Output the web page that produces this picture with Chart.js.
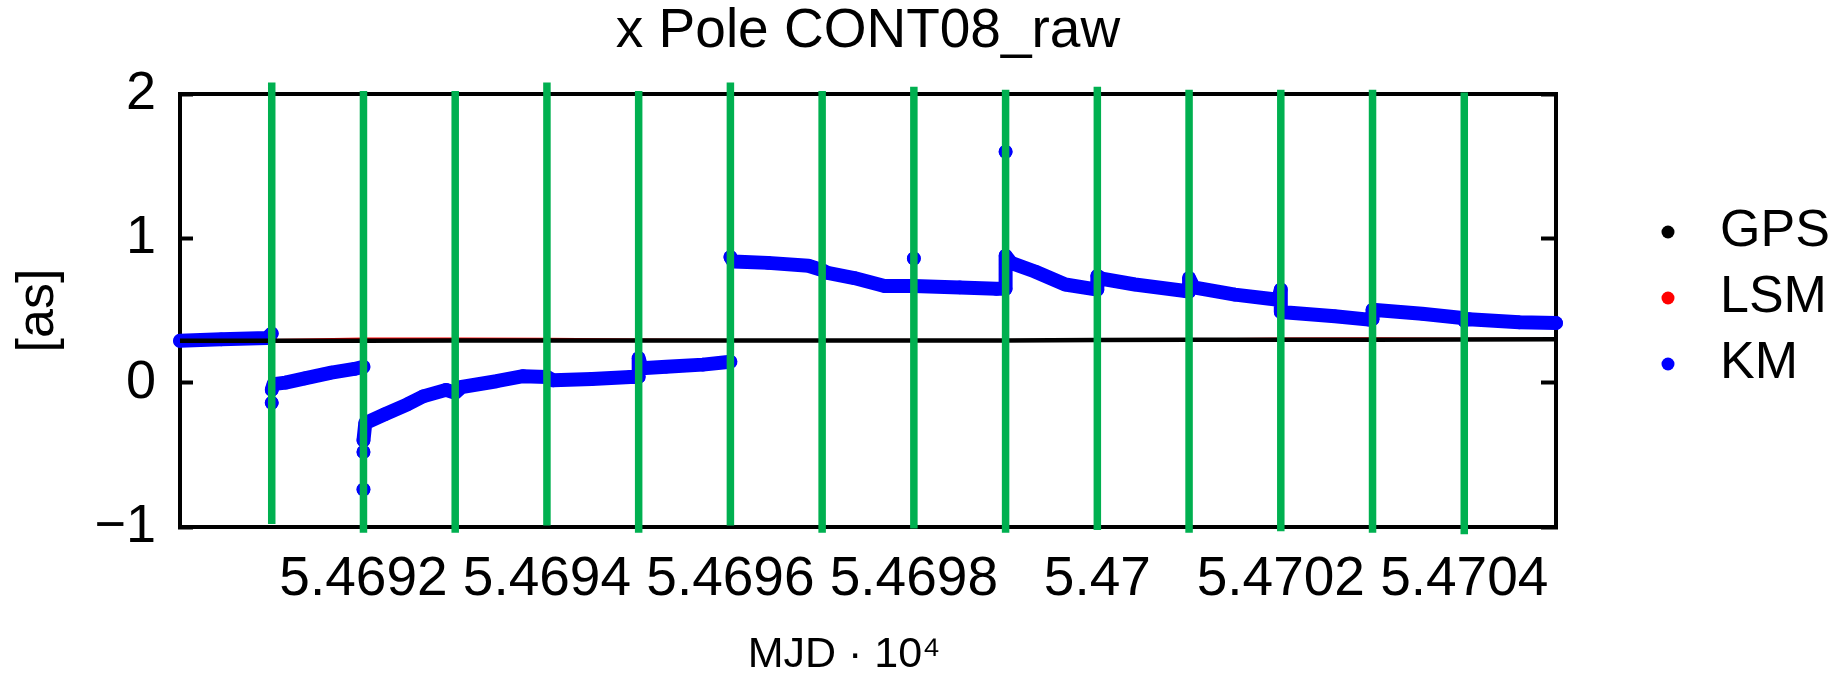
<!DOCTYPE html>
<html>
<head>
<meta charset="utf-8">
<script src="https://cdn.jsdelivr.net/npm/chart.js@4.4.1/dist/chart.umd.min.js"></script>
<style>
html,body{margin:0;padding:0;background:#ffffff;}
#wrap{width:1848px;height:674px;position:relative;}
</style>
</head>
<body>
<div id="wrap"><canvas id="c"></canvas></div>
<script>
// ---------- text ----------
const titleText = 'x Pole CONT08_raw';
const xAxisTitle = 'MJD · 10⁴';
const yAxisTitle = '[as]';
const seriesNames = ['GPS', 'LSM', 'KM'];
const seriesColors = ['#000000', '#ff0000', '#0000ff'];
const markerColor = '#00b050';

// ---------- ticks ----------
const xTickValues = [54692, 54694, 54696, 54698, 54700, 54702, 54704];
const xTickLabels = ['5.4692', '5.4694', '5.4696', '5.4698', '5.47', '5.4702', '5.4704'];
const yTickValues = [-1, 0, 1, 2];
const yTickLabels = ['\u22121', '0', '1', '2'];
const xMin = 54690, xMax = 54705;
const yMin = -1, yMax = 2;

// ---------- GPS (MJD, value in as) ----------
const gpsMJD    = [54690, 54691, 54692, 54693, 54694, 54695, 54696, 54697, 54698, 54699, 54700, 54701, 54702, 54703, 54704, 54705];
const gpsValues = [0.291, 0.291, 0.291, 0.292, 0.292, 0.292, 0.292, 0.292, 0.292, 0.293, 0.295, 0.297, 0.298, 0.298, 0.299, 0.300];

// ---------- LSM ----------
const lsmMJD    = [54690, 54691, 54692, 54693, 54694, 54695, 54696, 54697, 54698, 54699, 54700, 54701, 54702, 54703, 54704, 54705];
const lsmValues = [0.291, 0.292, 0.302, 0.303, 0.301, 0.296, 0.292, 0.292, 0.292, 0.293, 0.294, 0.296, 0.303, 0.304, 0.300, 0.302];

// ---------- KM (null = break between arcs) ----------
const kmMJD = [
  54690.00, 54690.45, 54690.95, 54691.00, null,
  54691.00, null,
  54691.00, 54691.02, 54691.15, 54691.36, 54691.65, 54691.90, 54692.00, null,
  54692.00, null,
  54692.00, null,
  54692.00, 54692.02, 54692.23, 54692.48, 54692.65, 54692.90, 54693.00, 54693.07, 54693.45, 54693.74,
  54694.00, 54694.07, 54694.49, 54694.91, 54695.00, 54695.00, 54695.03, 54695.30, 54695.70, 54696.00, null,
  54696.00, 54696.03, 54696.41, 54696.85, 54697.00, 54697.06, 54697.35, 54697.68, 54698.00, 54698.50,
  54698.90, 54699.00, 54699.00, 54699.06, 54699.32, 54699.65, 54700.00, 54700.00, 54700.05, 54700.41,
  54700.96, 54701.00, 54701.00, 54701.05, 54701.50, 54701.97, 54702.00, 54702.00, 54702.59, 54702.96,
  54703.00, 54703.00, 54703.54, 54703.98, 54704.00, 54704.05, 54704.60, 54705.00, null,
  54698.00, null,
  54699.00
];
const kmValues = [
  0.29, 0.30, 0.31, 0.34, null,
  -0.14, null,
  -0.05, -0.01, 0.00, 0.03, 0.07, 0.095, 0.11, null,
  -0.74, null,
  -0.48, null,
  -0.40, -0.28, -0.22, -0.15, -0.095, -0.05, -0.07, -0.03, 0.01, 0.045,
  0.04, 0.016, 0.026, 0.04, 0.04, 0.17, 0.10, 0.11, 0.125, 0.145, null,
  0.87, 0.84, 0.83, 0.81, 0.78, 0.76, 0.725, 0.67, 0.67, 0.66,
  0.65, 0.65, 0.88, 0.83, 0.77, 0.68, 0.645, 0.74, 0.72, 0.68,
  0.635, 0.63, 0.725, 0.66, 0.61, 0.575, 0.645, 0.49, 0.46, 0.437,
  0.44, 0.505, 0.478, 0.448, 0.43, 0.44, 0.418, 0.413, null,
  0.86, null,
  1.60
];

// ---------- green day markers ----------
const markerMJD    = [54691, 54692, 54693, 54694, 54695, 54696, 54697, 54698, 54699, 54700, 54701, 54702, 54703, 54704];
const markerBottom = [-0.98, -1.04, -1.04, -0.99, -1.04, -0.99, -1.04, -1.01, -1.04, -1.02, -1.04, -1.03, -1.04, -1.05];
const markerTop    = [2.08, 2.02, 2.02, 2.08, 2.02, 2.08, 2.02, 2.05, 2.03, 2.05, 2.03, 2.03, 2.03, 2.01];

// ---------- layout constants ----------
const FONT = "'Liberation Sans', Arial, Helvetica, sans-serif";
const LEGEND_W = 220;
const PLOT_LEFT = 180, PLOT_RIGHT = 1556, PLOT_TOP = 94, PLOT_BOTTOM = 527;
const CANVAS_W = 1848, CANVAS_H = 674;
const TITLE_H = 59;

// ---------- build data ----------
const pairs = (xs, ys) => xs.map((x, i) => ({x: x === null ? xs[i - 1] : x, y: ys[i]}));
const markerData = [];
markerMJD.forEach((x, i) => {
  markerData.push({x: x, y: markerBottom[i]});
  markerData.push({x: x, y: markerTop[i]});
  markerData.push({x: x, y: null});
});

const legendWidthPlugin = {
  id: 'legendWidth',
  beforeLayout(chart) {
    const lg = chart.legend;
    if (lg && !lg._patched) {
      const fit = lg.fit;
      lg.fit = function () { fit.call(this); this.width = LEGEND_W; };
      lg._patched = true;
    }
  }
};

Chart.defaults.font.family = FONT;
Chart.defaults.color = '#000000';

new Chart(document.getElementById('c'), {
  type: 'scatter',
  data: {
    datasets: [
      {
        label: '',
        data: markerData,
        showLine: true,
        spanGaps: false,
        borderColor: markerColor,
        backgroundColor: markerColor,
        borderWidth: 7.5,
        borderCapStyle: 'butt',
        pointRadius: 0,
        clip: false,
        order: 0
      },
      {
        label: seriesNames[0],
        data: pairs(gpsMJD, gpsValues),
        showLine: true,
        borderColor: seriesColors[0],
        backgroundColor: seriesColors[0],
        borderWidth: 4.5,
        pointRadius: 0,
        pointStyle: 'circle',
        order: 1
      },
      {
        label: seriesNames[1],
        data: pairs(lsmMJD, lsmValues),
        showLine: true,
        borderColor: seriesColors[1],
        backgroundColor: seriesColors[1],
        borderWidth: 3,
        pointRadius: 0,
        pointStyle: 'circle',
        order: 2
      },
      {
        label: seriesNames[2],
        data: pairs(kmMJD, kmValues),
        showLine: true,
        spanGaps: false,
        borderColor: seriesColors[2],
        backgroundColor: seriesColors[2],
        borderWidth: 14,
        borderCapStyle: 'round',
        borderJoinStyle: 'round',
        pointRadius: 6.8,
        pointBorderWidth: 0,
        pointBackgroundColor: seriesColors[2],
        pointStyle: 'circle',
        clip: false,
        order: 3
      }
    ]
  },
  options: {
    responsive: true,
    maintainAspectRatio: false,
    animation: false,
    devicePixelRatio: 1,
    layout: {padding: 0},
    plugins: {
      tooltip: {enabled: false},
      title: {
        display: true,
        text: titleText,
        fullSize: false,
        color: '#000000',
        font: {family: FONT, size: 55, weight: 'normal', lineHeight: 1},
        padding: {top: 4, bottom: 0}
      },
      legend: {
        display: true,
        position: 'right',
        align: 'start',
        title: {display: true, text: ' ', font: {size: 10, lineHeight: 1}, padding: {top: 182, bottom: 0}},
        labels: {
          usePointStyle: true,
          boxWidth: 52,
          boxHeight: 9.2,
          padding: 14,
          color: '#000000',
          font: {family: FONT, size: 52},
          filter: (item) => item.text !== '',
          generateLabels(chart) {
            const items = Chart.defaults.plugins.legend.labels.generateLabels(chart);
            return items.map((it) => {
              const ds = chart.data.datasets[it.datasetIndex];
              it.lineWidth = 0;
              it.pointStyle = 'circle';
              it.fillStyle = ds.borderColor;
              it.strokeStyle = ds.borderColor;
              return it;
            });
          }
        }
      }
    },
    scales: {
      x: {
        type: 'linear',
        position: 'bottom',
        min: xMin,
        max: xMax,
        afterBuildTicks: (s) => { s.ticks = xTickValues.map((v) => ({value: v})); },
        afterFit: (s) => { s.height = CANVAS_H - PLOT_BOTTOM; },
        ticks: {
          autoSkip: false,
          maxRotation: 0,
          padding: 20,
          color: '#000000',
          font: {family: FONT, size: 55},
          callback: (v) => { const i = xTickValues.indexOf(v); return i >= 0 ? xTickLabels[i] : ''; }
        },
        grid: {display: false, drawTicks: false},
        border: {display: true, color: '#000000', width: 4},
        title: {
          display: true,
          text: xAxisTitle + '    ',
          color: '#000000',
          font: {family: FONT, size: 43, lineHeight: 0.86},
          padding: {top: 0, bottom: 0}
        }
      },
      x2: {
        type: 'linear',
        position: 'top',
        min: xMin,
        max: xMax,
        afterFit: (s) => { s.height = PLOT_TOP - TITLE_H; },
        ticks: {display: false},
        grid: {display: false, drawTicks: false},
        border: {display: true, color: '#000000', width: 4}
      },
      y: {
        type: 'linear',
        position: 'left',
        min: yMin,
        max: yMax,
        afterBuildTicks: (s) => { s.ticks = yTickValues.map((v) => ({value: v})); },
        afterFit: (s) => { s.width = PLOT_LEFT; },
        ticks: {
          padding: 37,
          color: '#000000',
          font: {family: FONT, size: 54},
          callback: (v) => { const i = yTickValues.indexOf(v); return i >= 0 ? yTickLabels[i] : ''; }
        },
        grid: {display: true, drawOnChartArea: false, drawTicks: true, tickLength: -13, tickWidth: 4, tickColor: '#000000', color: '#000000'},
        border: {display: true, color: '#000000', width: 4},
        title: {
          display: true,
          text: yAxisTitle,
          color: '#000000',
          font: {family: FONT, size: 52, lineHeight: 1.2},
          padding: {top: 7, bottom: 0}
        }
      },
      y2: {
        type: 'linear',
        position: 'right',
        min: yMin,
        max: yMax,
        afterBuildTicks: (s) => { s.ticks = yTickValues.map((v) => ({value: v})); },
        afterFit: (s) => { s.width = CANVAS_W - LEGEND_W - PLOT_RIGHT; },
        ticks: {display: false},
        grid: {display: true, drawOnChartArea: false, drawTicks: true, tickLength: -15, tickWidth: 4, tickColor: '#000000', color: '#000000'},
        border: {display: true, color: '#000000', width: 4}
      }
    }
  },
  plugins: [legendWidthPlugin]
});
</script>
</body>
</html>
